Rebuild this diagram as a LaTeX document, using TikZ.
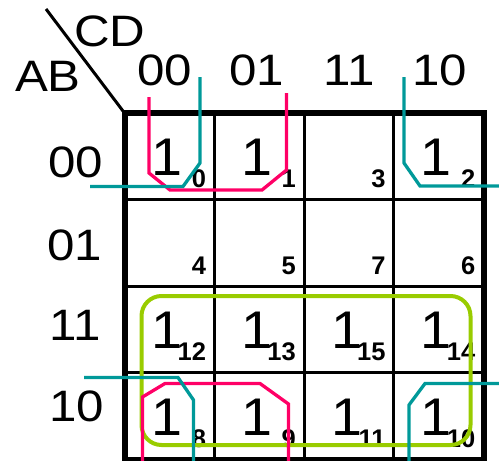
\documentclass[tikz,border=0pt]{standalone}
\usepackage{fontspec}
\usepackage{graphicx}
\setmainfont{Liberation Sans}
\definecolor{kpink}{RGB}{255,0,102}
\definecolor{kteal}{RGB}{0,153,153}
\definecolor{kgreen}{RGB}{153,204,0}
\newcommand\kwide[1]{\scalebox{1.12}[1]{#1}}
\newcommand\kone{\scalebox{1.05}[1]{\hbox to 0.264em{\kern-0.109em 1\hss}}}
\newcommand\ksub[1]{{\fontsize{25.5}{25.5}\selectfont\bfseries #1}}
\newcommand\kcell[1]{\hbox to 48.25pt{\kone\hfill\raisebox{-12.3pt}{\ksub{#1}}}}
\begin{document}
\begin{tikzpicture}[x=1pt,y=-1pt,
  lbl/.style={font=\fontsize{44}{44}\selectfont, inner sep=0pt},
  one/.style={font=\fontsize{53}{53}\selectfont, inner sep=0pt, anchor=base east},
  idx/.style={inner sep=0pt, anchor=base east},
  thin grid/.style={line width=3pt},
  thick grid/.style={line width=6pt},
  pinkloop/.style={draw=kpink, line width=3.3pt},
  tealloop/.style={draw=kteal, line width=3.3pt},
  greenloop/.style={draw=kgreen, line width=4pt, rounded corners=20pt}]
\useasboundingbox (0,0) rectangle (499,461);
% grid coordinates
\def\XA{124.5}\def\XB{214.25}\def\XC{304}\def\XD{393.75}\def\XE{483.5}
\def\YA{113}\def\YB{199.6}\def\YC{286.25}\def\YD{372.9}\def\YE{459.5}
% diagonal and headings
\coordinate (corner) at (\XA,\YA);
\coordinate (diagtop) at (46,9);
\draw[line width=3pt] (diagtop) -- (corner);
\node[lbl] (cd) at (110,31) {\kwide{CD}};
\node[lbl] (ab) at (48,76) {\kwide{AB}};
\node[lbl] (c00) at (165,70) {\kwide{00}};
\node[lbl] (c01) at (257,70) {\kwide{01}};
\node[lbl] (c11) at (349,70) {\kwide{11}};
\node[lbl] (c10) at (440,70) {\kwide{10}};
\node[lbl] (r00) at (76,162) {\kwide{00}};
\node[lbl] (r01) at (75,245) {\kwide{01}};
\node[lbl] (r11) at (75,325) {\kwide{11}};
\node[lbl] (r10) at (77,406) {\kwide{10}};
% inner grid
\foreach \x in {\XB,\XC,\XD} \draw[thin grid] (\x,\YA) -- (\x,\YE);
\foreach \y in {\YB,\YC,\YD} \draw[thin grid] (\XA,\y) -- (\XE,\y);
\draw[thick grid] (\XA,\YA) rectangle (\XE,\YE);
% empty cells: only the minterm index (column right, row bottom, minterm)
\foreach \xr/\yb/\m in {\XD/\YB/3, \XB/\YC/4, \XC/\YC/5, \XD/\YC/7, \XE/\YC/6}
  \node[idx] (i\m) at (\xr-8,\yb-12) {\ksub{\m}};
% cells holding 1, with their minterm index
\foreach \xr/\yb/\m in {
  \XB/\YB/0, \XC/\YB/1, \XE/\YB/2,
  \XB/\YD/12, \XC/\YD/13, \XD/\YD/15, \XE/\YD/14,
  \XB/\YE/8, \XC/\YE/9, \XD/\YE/11, \XE/\YE/10}
  \node[one] (v\m) at (\xr-8,\yb-24.3) {\kcell{\m}};
% green group
\draw[greenloop] (141.5,296) rectangle (470.5,445);
% pink groups
\draw[pinkloop] (149,97) -- (149,173) -- (170,190) -- (262,190) -- (286.5,170) -- (286.5,93);
\draw[pinkloop] (142.5,461) -- (142.5,397) -- (165,383.5) -- (260,383.5) -- (288.5,404) -- (288.5,461);
% teal groups
\draw[tealloop] (90,186.5) -- (183,186.5) -- (200,163) -- (200,77);
\draw[tealloop] (404,77) -- (404,163) -- (420,186) -- (499,186);
\draw[tealloop] (84,377.5) -- (178,377.5) -- (193.5,400) -- (193.5,461);
\draw[tealloop] (409,461) -- (409,405) -- (425,383.5) -- (499,383.5);
\end{tikzpicture}
\end{document}
